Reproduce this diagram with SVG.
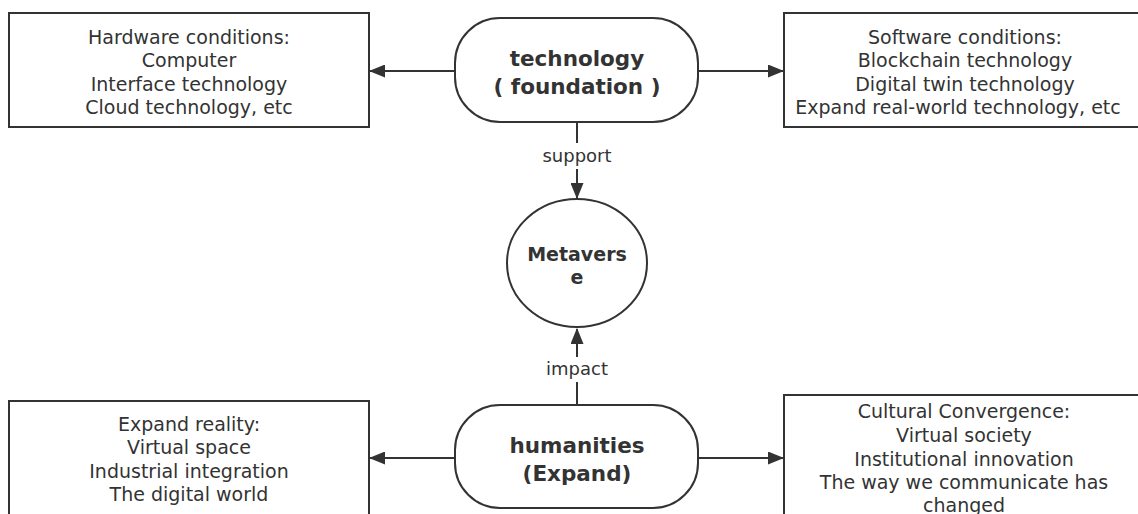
<svg xmlns="http://www.w3.org/2000/svg" width="1138" height="514" viewBox="0 0 1138 514">
<style>
.box{fill:#fff;stroke:#333;stroke-width:2}
.t{font-family:"DejaVu Sans","Open Sans",sans-serif;font-size:19px;fill:#333;text-anchor:middle}
.b{font-family:"DejaVu Sans","Open Sans",sans-serif;font-weight:bold;fill:#333;text-anchor:middle}
.lbl{font-family:"DejaVu Sans","Open Sans",sans-serif;font-size:18px;fill:#333;text-anchor:middle}
.c{stroke:#333;stroke-width:2;fill:none}
</style>
<defs>
<marker id="ah" markerWidth="16" markerHeight="13" refX="15" refY="6.5" orient="auto" markerUnits="userSpaceOnUse">
<path d="M0,0 L16,6.5 L0,13 Z" fill="#333"/>
</marker>
</defs>
<rect width="1138" height="514" fill="#fff"/>
<g id="connectors">
<line class="c" x1="455" y1="71" x2="370" y2="71" marker-end="url(#ah)"/>
<line class="c" x1="698" y1="71" x2="783" y2="71" marker-end="url(#ah)"/>
<line class="c" x1="455" y1="458" x2="370" y2="458" marker-end="url(#ah)"/>
<line class="c" x1="698" y1="458" x2="783" y2="458" marker-end="url(#ah)"/>
<line class="c" x1="577" y1="122" x2="577" y2="198" marker-end="url(#ah)"/>
<line class="c" x1="577" y1="405" x2="577" y2="329" marker-end="url(#ah)"/>
<rect x="537" y="143" width="80" height="26" fill="#fff"/>
<text class="lbl" x="577" y="162">support</text>
<rect x="541" y="357" width="71" height="25" fill="#fff"/>
<text class="lbl" x="577" y="375">impact</text>
</g>
<g id="hardware">
<rect class="box" x="9" y="13" width="360" height="114"/>
<text class="t" x="189" y="44">Hardware conditions:</text>
<text class="t" x="189" y="67">Computer</text>
<text class="t" x="189" y="91">Interface technology</text>
<text class="t" x="189" y="114">Cloud technology, etc</text>
</g>
<g id="technology">
<rect class="box" x="455" y="18" width="243" height="104" rx="45" ry="45"/>
<text class="b" x="577" y="66" font-size="21.5">technology</text>
<text class="b" x="577" y="94" font-size="21.5">( foundation )</text>
</g>
<g id="software">
<rect class="box" x="784" y="13" width="362" height="114"/>
<text class="t" x="965" y="44">Software conditions:</text>
<text class="t" x="965" y="67">Blockchain technology</text>
<text class="t" x="965" y="91">Digital twin technology</text>
<text class="t" x="958" y="114">Expand real-world technology, etc</text>
</g>
<g id="metaverse">
<ellipse class="box" cx="577" cy="263" rx="70" ry="64"/>
<text class="b" x="577" y="261" font-size="19">Metavers</text>
<text class="b" x="577" y="284" font-size="19">e</text>
</g>
<g id="humanities">
<rect class="box" x="455" y="405" width="243" height="103" rx="45" ry="45"/>
<text class="b" x="577" y="453" font-size="21.5">humanities</text>
<text class="b" x="577" y="481" font-size="21.5">(Expand)</text>
</g>
<g id="expand-reality">
<rect class="box" x="9" y="401" width="360" height="130"/>
<text class="t" x="189" y="431">Expand reality:</text>
<text class="t" x="189" y="454">Virtual space</text>
<text class="t" x="189" y="478">Industrial integration</text>
<text class="t" x="189" y="501">The digital world</text>
</g>
<g id="cultural">
<rect class="box" x="784" y="395" width="362" height="140"/>
<text class="t" x="964" y="418">Cultural Convergence:</text>
<text class="t" x="964" y="442">Virtual society</text>
<text class="t" x="964" y="466">Institutional innovation</text>
<text class="t" x="964" y="489">The way we communicate has</text>
<text class="t" x="964" y="512">changed</text>
</g>
</svg>
